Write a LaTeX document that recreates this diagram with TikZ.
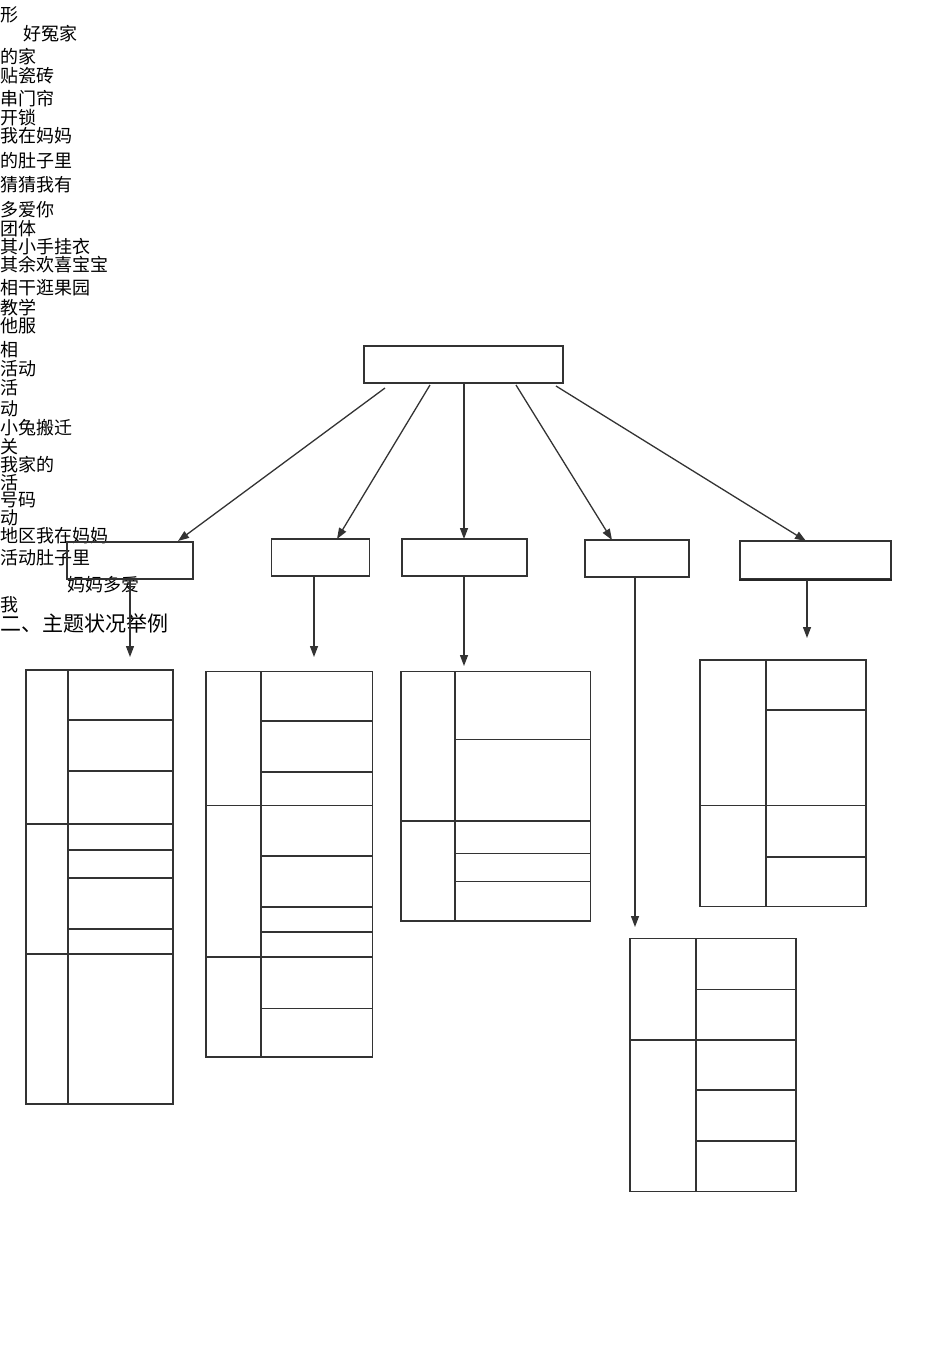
\documentclass[tikz,border=0pt]{standalone}
\usepackage{fontspec}
\newfontfamily\cjk{Noto Sans CJK SC}
\usetikzlibrary{arrows.meta}
\tikzset{
  ln/.style={draw=black!80, line width=1.3pt},
  boxnode/.style={ln, rectangle, inner sep=0pt, fill=none},
  arr/.style={ln, -{Triangle[length=11pt,width=8pt]}},
  txt/.style={anchor=west, inner sep=0pt, font=\cjk\fontsize{18pt}{18pt}\selectfont},
  bigtxt/.style={anchor=west, inner sep=0pt, font=\cjk\fontsize{21pt}{21pt}\selectfont}
}
\begin{document}
\begin{tikzpicture}[x=1pt,y=-1pt]
\useasboundingbox (0,0) rectangle (950,1345);
% left text
\node[txt] (l1) at (0,15) {形};
\node[txt] (l2) at (23,34) {好冤家};
\node[txt] (l3) at (0,57) {的家};
\node[txt] (l4) at (0,76) {贴瓷砖};
\node[txt] (l5) at (0,99) {串门帘};
\node[txt] (l6) at (0,118) {开锁};
\node[txt] (l7) at (0,136) {我在妈妈};
\node[txt] (l8) at (0,161) {的肚子里};
\node[txt] (l9) at (0,185) {猜猜我有};
\node[txt] (l10) at (0,210) {多爱你};
\node[txt] (l11) at (0,229) {团体};
\node[txt] (l12) at (0,247) {其小手挂衣};
\node[txt] (l13) at (0,265) {其余欢喜宝宝};
\node[txt] (l14) at (0,288) {相干逛果园};
\node[txt] (l15) at (0,308) {教学};
\node[txt] (l16) at (0,326) {他服};
\node[txt] (l17) at (0,350) {相};
\node[txt] (l18) at (0,369) {活动};
\node[txt] (l19) at (0,388) {活};
\node[txt] (l20) at (0,409) {动};
\node[txt] (l21) at (0,428) {小兔搬迁};
\node[txt] (l22) at (0,447) {关};
\node[txt] (l23) at (0,465) {我家的};
\node[txt] (l24) at (0,483) {活};
\node[txt] (l25) at (0,500) {号码};
\node[txt] (l26) at (0,518) {动};
\node[txt] (l27) at (0,536) {地区我在妈妈};
\node[txt] (l28) at (0,558) {活动肚子里};
\node[txt] (l29) at (67,585) {妈妈多爱};
\node[txt] (l30) at (0,605) {我};
\node[bigtxt] (h) at (0,623) {二、主题状况举例};
% top box
\node[boxnode, minimum width=199pt, minimum height=37pt] (top) at (463.5,364.5) {};
% second level boxes
\node[boxnode, minimum width=126pt, minimum height=37pt] (b1) at (130,560.5) {};
\node[boxnode, minimum width=98pt, minimum height=37pt] (b2) at (320.5,557.5) {};
\node[boxnode, minimum width=125pt, minimum height=37pt] (b3) at (464.5,557.5) {};
\node[boxnode, minimum width=104pt, minimum height=37pt] (b4) at (637,558.5) {};
\node[boxnode, minimum width=151pt, minimum height=38pt] (b5) at (815.5,560) {};
\draw[draw=black!85, line width=2.2pt] (b5.south west) -- (b5.south east);
% arrow start/end coordinates
\coordinate (s1) at (385,388); \coordinate (e1) at (178,541);
\coordinate (s2) at (430,385); \coordinate (e2) at (337,539);
\coordinate (s3) at (464,383); \coordinate (e3) at (464,539);
\coordinate (s4) at (516,385); \coordinate (e4) at (612,540);
\coordinate (s5) at (556,386); \coordinate (e5) at (806,541);
\draw[arr] (s1) -- (e1);
\draw[arr] (s2) -- (e2);
\draw[arr] (s3) -- (e3);
\draw[arr] (s4) -- (e4);
\draw[arr] (s5) -- (e5);
% down arrows
\coordinate (d1) at (130,657);
\coordinate (d2) at (314,657);
\coordinate (d3) at (464,666);
\coordinate (d4) at (635,927);
\coordinate (d5) at (807,638);
\draw[arr] (b1.south -| d1) -- (d1);
\draw[arr] (b2.south -| d2) -- (d2);
\draw[arr] (b3.south -| d3) -- (d3);
\draw[arr] (b4.south -| d4) -- (d4);
\draw[arr] (b5.south -| d5) -- (d5);
% table 1
\draw[ln] (26,670) rectangle (173,1104);
\draw[ln] (68,670) -- (68,1104);
\foreach \y in {824,954} \draw[ln] (26,\y) -- (173,\y);
\foreach \y in {720,771,850,878,929} \draw[ln] (68,\y) -- (173,\y);
% table 2
\draw[ln] (206,671.5) rectangle (372.5,1057);
\draw[ln] (261,671.5) -- (261,1057);
\foreach \y in {805.5,957} \draw[ln] (206,\y) -- (372.5,\y);
\foreach \y in {721,772,856,907,932,1008.5} \draw[ln] (261,\y) -- (372.5,\y);
% table 3
\draw[ln] (401,671.5) rectangle (590.5,921);
\draw[ln] (455,671.5) -- (455,921);
\draw[ln] (401,821) -- (590.5,821);
\foreach \y in {739.5,853.5,881.5} \draw[ln] (455,\y) -- (590.5,\y);
% table 4
\draw[ln] (700,660) rectangle (866,906.5);
\draw[ln] (766,660) -- (766,906.5);
\draw[ln] (700,805.5) -- (866,805.5);
\foreach \y in {710,857} \draw[ln] (766,\y) -- (866,\y);
% table 5
\draw[ln] (630,938.5) rectangle (796,1191.5);
\draw[ln] (696,938.5) -- (696,1191.5);
\draw[ln] (630,1040) -- (796,1040);
\foreach \y in {989.5,1090,1141} \draw[ln] (696,\y) -- (796,\y);
\end{tikzpicture}
\end{document}
